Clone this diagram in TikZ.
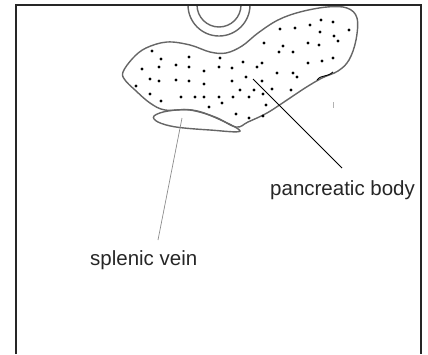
\documentclass[tikz,border=0pt]{standalone}
\usepackage{fontspec}
\setmainfont{Liberation Sans}
\usetikzlibrary{positioning}

\begin{document}
\begin{tikzpicture}[x=1pt,y=-1pt]
\tikzset{
frame/.style={draw=black!85, line width=1.4pt},
organ/.style={draw=black!60, line width=1.4pt},
speck/.style={fill=black, draw=none},
leader/.style={draw=black, line width=0.9pt},
faintleader/.style={draw=black!45, line width=0.7pt},
mylabel/.style={inner sep=0pt, anchor=base west, text=black!85, font=\fontsize{20.5}{24}\selectfont},
}
\useasboundingbox (0,0) rectangle (428,354);

% vessel cut at the top edge
\begin{scope}
\clip (16,5) rectangle (421,354);
\draw[organ] (219,5) circle (31);
\draw[organ] (219,5) circle (22);
\end{scope}

% pancreas outline
\draw[organ] plot[smooth cycle, tension=0.6] coordinates {
(123,72) (133,58) (146,48) (167,42) (190,45) (210,52) (226,53) (242,46)
(258,33) (278,20) (300,12) (327,7) (347,8) (357,18) (356,40) (349,60)
(338,71) (322,78) (305,88) (287,100) (267,113) (248,122) (236,127)
(215,117) (190,110) (165,110) (150,103) (135,90) (125,80)};
\draw[black, line width=0.9pt] (317,80) .. controls (322,74) and (326,78) .. (333,72);

% splenic vein
\draw[organ] plot[smooth cycle, tension=0.6] coordinates {
(154,116) (168,111) (192,110) (214,117) (240,131) (210,130) (176,127) (158,122)};

% dots inside the body
\foreach \px/\py in {
152/51, 161/59, 189/57, 220/58, 280/29, 295/28, 310/25, 321/20, 333/22,
349/30, 320/32, 334/36, 338/41, 264/43, 283/46, 279/52, 293/52, 308/43,
319/45, 308/63, 322/61, 333/58, 142/69, 159/67, 176/65, 189/67, 204/71,
219/67, 232/68, 243/62, 257/67, 262/63, 277/73, 293/73, 297/77, 150/79,
159/81, 176/80, 189/81, 204/84, 232/81, 246/77, 262/81, 136/86, 240/90,
254/90, 272/89, 291/90, 150/94, 161/101, 181/97, 195/97, 204/97, 219/97,
222/103, 233/97, 249/97, 263/94, 209/107, 266/105, 236/114, 249/118, 263/116}
  \fill[speck] (\px,\py) circle (1.6);

% small mark right of the body
\draw[black!30, line width=0.8pt] (333,102) -- (333,108);

% labels and their leader lines
\node[mylabel] (body) at (270,195) {pancreatic body};
\node[mylabel] (vein) at (90,265) {splenic vein};
\coordinate (bodypt) at (253,79);
\coordinate (bodyend) at (342,168);
\coordinate (veinpt) at (182,118);
\coordinate (veinend) at (158,240);
\draw[leader] (bodypt) -- (bodyend);
\draw[faintleader] (veinpt) -- (veinend);

% frame, open at the bottom
\draw[frame] (16,354) -- (16,5) -- (421,5) -- (421,354);
\end{tikzpicture}
\end{document}
